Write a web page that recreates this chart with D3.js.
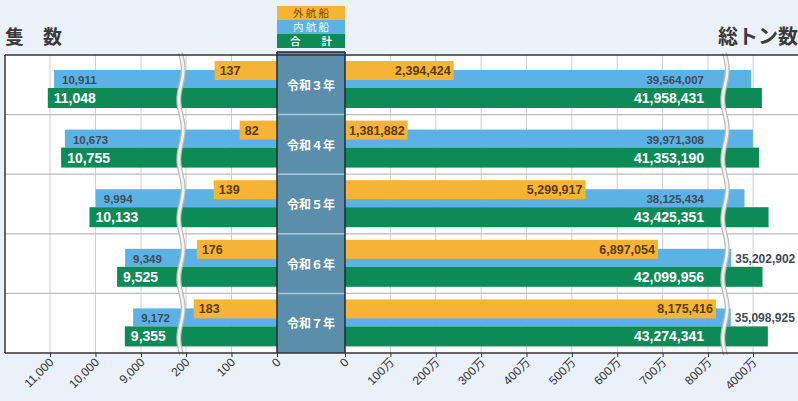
<!DOCTYPE html>
<html><head><meta charset="utf-8">
<script src="https://cdn.jsdelivr.net/npm/d3@7"></script>
<style>
html,body{margin:0;padding:0;background:#eaf1f9;}
svg{display:block;font-family:"Liberation Sans",Arial,"Noto Sans CJK JP",sans-serif;}
</style></head><body>
<svg id="c" width="798" height="401"></svg>
<script>
const years = ["令和３年","令和４年","令和５年","令和６年","令和７年"];
const foreignShips = [137, 82, 139, 176, 183];
const domesticShips = [10911, 10673, 9994, 9349, 9172];
const totalShips = [11048, 10755, 10133, 9525, 9355];
const foreignTons = [2394424, 1381882, 5299917, 6897054, 8175416];
const domesticTons = [39564007, 39971308, 38125434, 35202902, 35098925];
const totalTons = [41958431, 41353190, 43425351, 42099956, 43274341];
const leftTicksLow = [0, 100, 200];
const leftTicksHigh = [9000, 10000, 11000];
const rightTicksLow = [0,1e6,2e6,3e6,4e6,5e6,6e6,7e6,8e6];
const rightTicksHigh = [40e6];

const C = {yellow:"#f6b436", blue:"#5cb2e4", green:"#0d8b56", band:"#5b8eaa"};
const svg = d3.select("#c");
const pTop = 55, pBottom = 353, pLeft = 5, pRight = 800;
const bandL = 277, bandR = 345;

const leftLow = d3.scaleLinear().domain([0,200]).range([bandL,186]);
const leftHigh = d3.scaleLinear().domain([9000,11000]).range([141,50]);
const rightLow = d3.scaleLinear().domain([0,8e6]).range([bandR,708]);
const rightHigh = d3.scaleLinear().domain([40e6,50e6]).range([753,753+45.375]);
const lx = v => v < 1000 ? leftLow(v) : leftHigh(v);
const rx = v => v < 20e6 ? rightLow(v) : rightHigh(v);
const yRow = d3.scaleBand().domain(years).range([pTop,pBottom]);
const fmt = d3.format(",");

// plot background
svg.append("rect").attr("x",pLeft).attr("y",pTop).attr("width",pRight-pLeft).attr("height",pBottom-pTop).attr("fill","#fff");

// gridlines
const gridXs = [...leftTicksLow.slice(1).map(leftLow), ...leftTicksHigh.map(leftHigh),
  ...rightTicksLow.slice(1).map(rightLow), ...rightTicksHigh.map(rightHigh)];
svg.append("g").selectAll("line").data(gridXs).join("line")
  .attr("x1",d=>d).attr("x2",d=>d).attr("y1",pTop).attr("y2",pBottom)
  .attr("stroke","#cfcfcf").attr("stroke-width",1);

// row separators
svg.append("g").selectAll("line").data(years.slice(1)).join("line")
  .attr("x1",pLeft).attr("x2",pRight).attr("y1",d=>yRow(d)).attr("y2",d=>yRow(d))
  .attr("stroke","#bdbdbd").attr("stroke-width",1.2);

// bars
const rows = years.map((y,i)=>({y,i,t:yRow(y)}));
const gBars = svg.append("g");
function barsLeft(vals, dy, h, col){
  gBars.append("g").selectAll("rect").data(rows).join("rect")
    .attr("x",d=>lx(vals[d.i])).attr("width",d=>bandL-lx(vals[d.i]))
    .attr("y",d=>d.t+dy).attr("height",h).attr("fill",col);
}
function barsRight(vals, dy, h, col){
  gBars.append("g").selectAll("rect").data(rows).join("rect")
    .attr("x",bandR).attr("width",d=>rx(vals[d.i])-bandR)
    .attr("y",d=>d.t+dy).attr("height",h).attr("fill",col);
}
barsLeft(domesticShips,15,18,C.blue);
barsLeft(totalShips,33,20,C.green);
barsLeft(foreignShips,6,19,C.yellow);
barsRight(domesticTons,15,18,C.blue);
barsRight(totalTons,33,20,C.green);
barsRight(foreignTons,6,19,C.yellow);

// break waves
function wave(x0){
  const pts = d3.range(pTop-2, pBottom+4, 2).map(y=>[x0 + 2.2*Math.sin((y-pTop)/yRow.bandwidth()*2*Math.PI), y]);
  const line = d3.line().curve(d3.curveBasis);
  svg.append("path").attr("d",line(pts)).attr("fill","none").attr("stroke","#b9b9b9").attr("stroke-width",5);
  svg.append("path").attr("d",line(pts)).attr("fill","none").attr("stroke","#f2f2f2").attr("stroke-width",2.6);
}
wave(181); wave(725);

// labels
const gL = svg.append("g").attr("font-weight","bold");
const labelX = 704;
rows.forEach(d=>{
  const i=d.i, t=d.t;
  gL.append("text").attr("x",lx(foreignShips[i])+5).attr("y",t+20).attr("font-size",12.5).attr("fill","#5a3c00").text(fmt(foreignShips[i]));
  gL.append("text").attr("x",lx(domesticShips[i])+8).attr("y",t+29).attr("font-size",11.5).attr("fill","#3f4b58").text(fmt(domesticShips[i]));
  gL.append("text").attr("x",lx(totalShips[i])+6).attr("y",t+48).attr("font-size",14).attr("fill","#fff").text(fmt(totalShips[i]));
  gL.append("text").attr("x",rx(foreignTons[i])-3).attr("y",t+20).attr("text-anchor","end").attr("font-size",12.5).attr("fill","#5a3c00").text(fmt(foreignTons[i]));
  const outside = rx(foreignTons[i]) > labelX - 60;
  gL.append("text").attr("x",outside ? rx(domesticTons[i])+4 : labelX).attr("y",t+29)
    .attr("text-anchor",outside?"start":"end").attr("font-size",outside?12:11.5).attr("fill","#3f4b58").text(fmt(domesticTons[i]));
  gL.append("text").attr("x",labelX).attr("y",t+48).attr("text-anchor","end").attr("font-size",14).attr("fill","#fff").text(fmt(totalTons[i]));
});

// center band
svg.append("rect").attr("x",bandL).attr("y",52).attr("width",bandR-bandL).attr("height",pBottom-52).attr("fill",C.band);
svg.append("g").selectAll("line").data(years.slice(1)).join("line")
  .attr("x1",bandL).attr("x2",bandR).attr("y1",d=>yRow(d)).attr("y2",d=>yRow(d))
  .attr("stroke","#a9cadb").attr("stroke-width",1.5);
svg.append("line").attr("x1",bandL).attr("x2",bandR).attr("y1",52).attr("y2",52).attr("stroke","#1d2a33").attr("stroke-width",1.5);
[bandL,bandR].forEach(x=>svg.append("line").attr("x1",x).attr("x2",x).attr("y1",52).attr("y2",pBottom).attr("stroke","#1d2a33").attr("stroke-width",1.5));
svg.append("g").selectAll("text").data(rows).join("text")
  .attr("x",(bandL+bandR)/2).attr("y",d=>d.t+35).attr("text-anchor","middle")
  .attr("font-size",12).attr("font-weight","bold").attr("fill","#fff").text(d=>d.y);

// frame
svg.append("line").attr("x1",pLeft).attr("x2",pRight).attr("y1",pTop).attr("y2",pTop).attr("stroke","#333").attr("stroke-width",1.5);
svg.append("line").attr("x1",pLeft).attr("x2",pLeft).attr("y1",pTop).attr("y2",pBottom).attr("stroke","#333").attr("stroke-width",1.5);

// axes
function axis(scale, vals, f){
  const g = svg.append("g").attr("transform",`translate(0,${pBottom})`)
    .call(d3.axisBottom(scale).tickValues(vals).tickFormat(f).tickSize(4).tickSizeOuter(0));
  g.select(".domain").remove();
  g.selectAll(".tick line").attr("stroke","#333");
  g.selectAll(".tick text").attr("font-size",12).attr("fill","#333")
    .attr("font-family","Liberation Sans, Arial, Noto Sans CJK JP, sans-serif")
    .attr("text-anchor","end").attr("dy",null).attr("y",0)
    .attr("transform","translate(4,10) rotate(-45)");
}
svg.append("line").attr("x1",pLeft).attr("x2",pRight).attr("y1",pBottom).attr("y2",pBottom).attr("stroke","#333").attr("stroke-width",1.5);
axis(leftLow, leftTicksLow, d3.format(","));
axis(leftHigh, leftTicksHigh, d3.format(","));
const manFmt = v => v===0 ? "0" : (v/1e4)+"万";
axis(rightLow, rightTicksLow, manFmt);
axis(rightHigh, rightTicksHigh, manFmt);

// titles
svg.append("text").attr("x",5).attr("y",44).attr("font-size",19).attr("font-weight","bold").attr("fill","#3a3a3a")
  .attr("font-family","Noto Sans CJK JP").text("隻　数");
svg.append("text").attr("x",718).attr("y",44).attr("font-size",20).attr("font-weight","bold").attr("fill","#3a3a3a")
  .attr("font-family","Noto Sans CJK JP").text("総トン数");

// legend
const legend = [
  {label:"外 航 船", fill:C.yellow, color:"#7a4a00", w:"normal"},
  {label:"内 航 船", fill:C.blue, color:"#eef6fc", w:"normal"},
  {label:"合　　計", fill:C.green, color:"#ffffff", w:"bold"}
];
const lg = svg.append("g");
legend.forEach((d,i)=>{
  lg.append("rect").attr("x",bandL).attr("y",6+i*14).attr("width",bandR-bandL).attr("height",14).attr("fill",d.fill);
  lg.append("text").attr("x",(bandL+bandR)/2).attr("y",6+i*14+11).attr("text-anchor","middle")
    .attr("font-size",10.5).attr("font-weight",d.w).attr("fill",d.color).attr("font-family","Noto Sans CJK JP").text(d.label);
});
</script>
</body></html>
